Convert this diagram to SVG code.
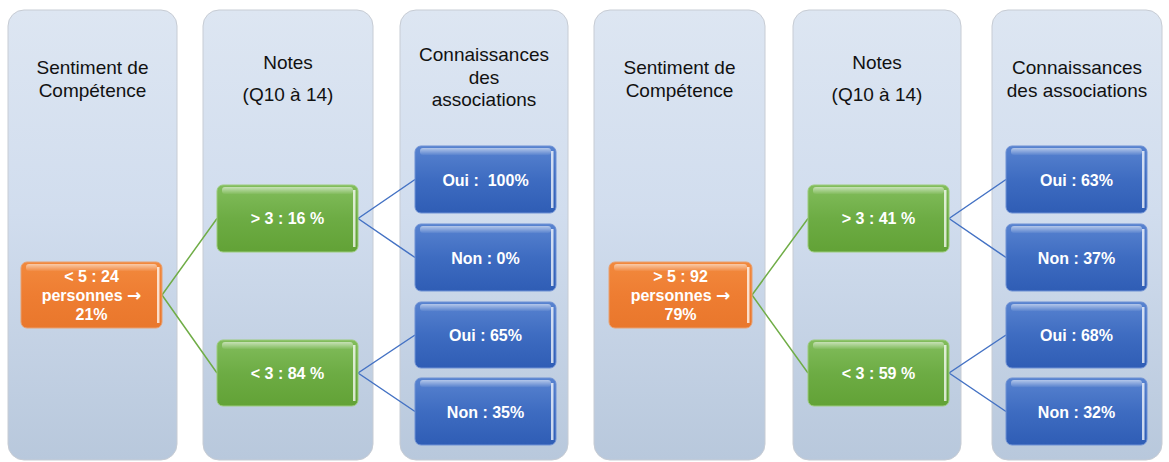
<svg xmlns="http://www.w3.org/2000/svg" width="1169" height="462" viewBox="0 0 1169 462">
<defs>
<linearGradient id="gCol" x1="0" y1="0" x2="0" y2="1">
<stop offset="0" stop-color="#dde6f2"/>
<stop offset="0.45" stop-color="#d1ddee"/>
<stop offset="1" stop-color="#b8c8dc"/>
</linearGradient>
<linearGradient id="gOr" x1="0" y1="0" x2="0" y2="1">
<stop offset="0" stop-color="#f2893d"/>
<stop offset="0.5" stop-color="#ee7d32"/>
<stop offset="1" stop-color="#e9772c"/>
</linearGradient>
<linearGradient id="gGr" x1="0" y1="0" x2="0" y2="1">
<stop offset="0" stop-color="#82bd5c"/>
<stop offset="0.5" stop-color="#6dac44"/>
<stop offset="1" stop-color="#62a236"/>
</linearGradient>
<linearGradient id="gBl" x1="0" y1="0" x2="0" y2="1">
<stop offset="0" stop-color="#5883d0"/>
<stop offset="0.5" stop-color="#3e6cc1"/>
<stop offset="1" stop-color="#2f5db5"/>
</linearGradient>
<linearGradient id="gHi" x1="0" y1="0" x2="0" y2="1">
<stop offset="0" stop-color="#ffffff" stop-opacity="0.55"/>
<stop offset="1" stop-color="#ffffff" stop-opacity="0.05"/>
</linearGradient>
</defs>
<style>
.col{fill:url(#gCol);stroke:#c7ccd4;stroke-width:1}
.or{fill:url(#gOr);stroke:#e8a070;stroke-width:1}
.gr{fill:url(#gGr);stroke:#9ccc7c;stroke-width:1}
.bl{fill:url(#gBl);stroke:#6f91d4;stroke-width:1}
.hi{fill:url(#gHi)}
.rs{fill:#ffffff;opacity:0.75}
.hd{font-family:"Liberation Sans",Arial,sans-serif;font-size:19px;fill:#111111;text-anchor:middle}
.lb{font-family:"Liberation Sans",Arial,sans-serif;font-size:16px;font-weight:bold;fill:#ffffff;text-anchor:middle}
.ar{font-family:"DejaVu Sans",sans-serif;font-size:17px;font-weight:bold}
.cg{fill:none;stroke:#70ad47;stroke-width:1.5}
.cb{fill:none;stroke:#4472c4;stroke-width:1.5}
</style>

<g id="col1"><rect class="col" x="8" y="10" width="169" height="450" rx="16"/>
<text class="hd" x="92.5" y="74">Sentiment de</text><text class="hd" x="92.5" y="97">Compétence</text></g>
<g id="col2"><rect class="col" x="203" y="10" width="170" height="450" rx="16"/>
<text class="hd" x="288" y="69">Notes</text><text class="hd" x="288" y="101">(Q10 à 14)</text></g>
<g id="col3"><rect class="col" x="400" y="10" width="168" height="450" rx="16"/>
<text class="hd" x="484" y="61">Connaissances</text><text class="hd" x="484" y="83.5">des</text><text class="hd" x="484" y="106">associations</text></g>
<g id="col4"><rect class="col" x="594" y="10" width="171" height="450" rx="16"/>
<text class="hd" x="679.5" y="74">Sentiment de</text><text class="hd" x="679.5" y="97">Compétence</text></g>
<g id="col5"><rect class="col" x="793" y="10" width="168" height="450" rx="16"/>
<text class="hd" x="877" y="69">Notes</text><text class="hd" x="877" y="101">(Q10 à 14)</text></g>
<g id="col6"><rect class="col" x="992" y="10" width="170" height="450" rx="16"/>
<text class="hd" x="1077" y="74">Connaissances</text><text class="hd" x="1077" y="97">des associations</text></g>

<g id="connectors">
<path class="cg" d="M162 295 L217 218.5 M162 295 L217 373"/>
<path class="cb" d="M358 218.5 L415 179.5 M358 218.5 L415 257.5 M358 373 L415 335 M358 373 L415 411.5"/>
<path class="cg" d="M752 295 L808 218.5 M752 295 L808 373"/>
<path class="cb" d="M949 218.5 L1006 179.5 M949 218.5 L1006 257.5 M949 373 L1006 335 M949 373 L1006 411.5"/>
</g>

<g id="n-left-root"><rect class="or" x="21" y="262" width="141" height="66" rx="6"/>
<rect class="hi" x="26" y="264" width="131" height="7" rx="3"/><rect class="rs" x="157" y="267" width="2.5" height="56"/>
<text class="lb" x="91.5" y="282">&lt; 5 : 24</text><text class="lb" x="91.5" y="301">personnes <tspan class="ar">→</tspan></text><text class="lb" x="91.5" y="320">21%</text></g>
<g id="n-left-g1"><rect class="gr" x="217" y="185" width="141" height="67" rx="6"/>
<rect class="hi" x="222" y="187" width="131" height="7" rx="3"/><rect class="rs" x="353" y="190" width="2.5" height="57"/>
<text class="lb" x="287.5" y="224">&gt; 3 : 16 %</text></g>
<g id="n-left-g2"><rect class="gr" x="217" y="340" width="141" height="66" rx="6"/>
<rect class="hi" x="222" y="342" width="131" height="7" rx="3"/><rect class="rs" x="353" y="345" width="2.5" height="56"/>
<text class="lb" x="287.5" y="378.5">&lt; 3 : 84 %</text></g>
<g id="n-left-b1"><rect class="bl" x="415" y="146" width="141" height="67" rx="6"/>
<rect class="hi" x="420" y="148" width="131" height="7" rx="3"/><rect class="rs" x="551" y="151" width="2.5" height="57"/>
<text class="lb" x="485.5" y="185.5" xml:space="preserve">Oui :  100%</text></g>
<g id="n-left-b2"><rect class="bl" x="415" y="224" width="141" height="67" rx="6"/>
<rect class="hi" x="420" y="226" width="131" height="7" rx="3"/><rect class="rs" x="551" y="229" width="2.5" height="57"/>
<text class="lb" x="485.5" y="263.5">Non : 0%</text></g>
<g id="n-left-b3"><rect class="bl" x="415" y="302" width="141" height="66" rx="6"/>
<rect class="hi" x="420" y="304" width="131" height="7" rx="3"/><rect class="rs" x="551" y="307" width="2.5" height="56"/>
<text class="lb" x="485.5" y="341">Oui : 65%</text></g>
<g id="n-left-b4"><rect class="bl" x="415" y="378" width="141" height="67" rx="6"/>
<rect class="hi" x="420" y="380" width="131" height="7" rx="3"/><rect class="rs" x="551" y="383" width="2.5" height="57"/>
<text class="lb" x="485.5" y="417.5">Non : 35%</text></g>

<g id="n-right-root"><rect class="or" x="609" y="262" width="143" height="66" rx="6"/>
<rect class="hi" x="614" y="264" width="133" height="7" rx="3"/><rect class="rs" x="747" y="267" width="2.5" height="56"/>
<text class="lb" x="680.5" y="282">&gt; 5 : 92</text><text class="lb" x="680.5" y="301">personnes <tspan class="ar">→</tspan></text><text class="lb" x="680.5" y="320">79%</text></g>
<g id="n-right-g1"><rect class="gr" x="808" y="185" width="141" height="67" rx="6"/>
<rect class="hi" x="813" y="187" width="131" height="7" rx="3"/><rect class="rs" x="944" y="190" width="2.5" height="57"/>
<text class="lb" x="878.5" y="224">&gt; 3 : 41 %</text></g>
<g id="n-right-g2"><rect class="gr" x="808" y="340" width="141" height="66" rx="6"/>
<rect class="hi" x="813" y="342" width="131" height="7" rx="3"/><rect class="rs" x="944" y="345" width="2.5" height="56"/>
<text class="lb" x="878.5" y="378.5">&lt; 3 : 59 %</text></g>
<g id="n-right-b1"><rect class="bl" x="1006" y="146" width="141" height="67" rx="6"/>
<rect class="hi" x="1011" y="148" width="131" height="7" rx="3"/><rect class="rs" x="1142" y="151" width="2.5" height="57"/>
<text class="lb" x="1076.5" y="185.5">Oui : 63%</text></g>
<g id="n-right-b2"><rect class="bl" x="1006" y="224" width="141" height="67" rx="6"/>
<rect class="hi" x="1011" y="226" width="131" height="7" rx="3"/><rect class="rs" x="1142" y="229" width="2.5" height="57"/>
<text class="lb" x="1076.5" y="263.5">Non : 37%</text></g>
<g id="n-right-b3"><rect class="bl" x="1006" y="302" width="141" height="66" rx="6"/>
<rect class="hi" x="1011" y="304" width="131" height="7" rx="3"/><rect class="rs" x="1142" y="307" width="2.5" height="56"/>
<text class="lb" x="1076.5" y="341">Oui : 68%</text></g>
<g id="n-right-b4"><rect class="bl" x="1006" y="378" width="141" height="67" rx="6"/>
<rect class="hi" x="1011" y="380" width="131" height="7" rx="3"/><rect class="rs" x="1142" y="383" width="2.5" height="57"/>
<text class="lb" x="1076.5" y="417.5">Non : 32%</text></g>
</svg>
